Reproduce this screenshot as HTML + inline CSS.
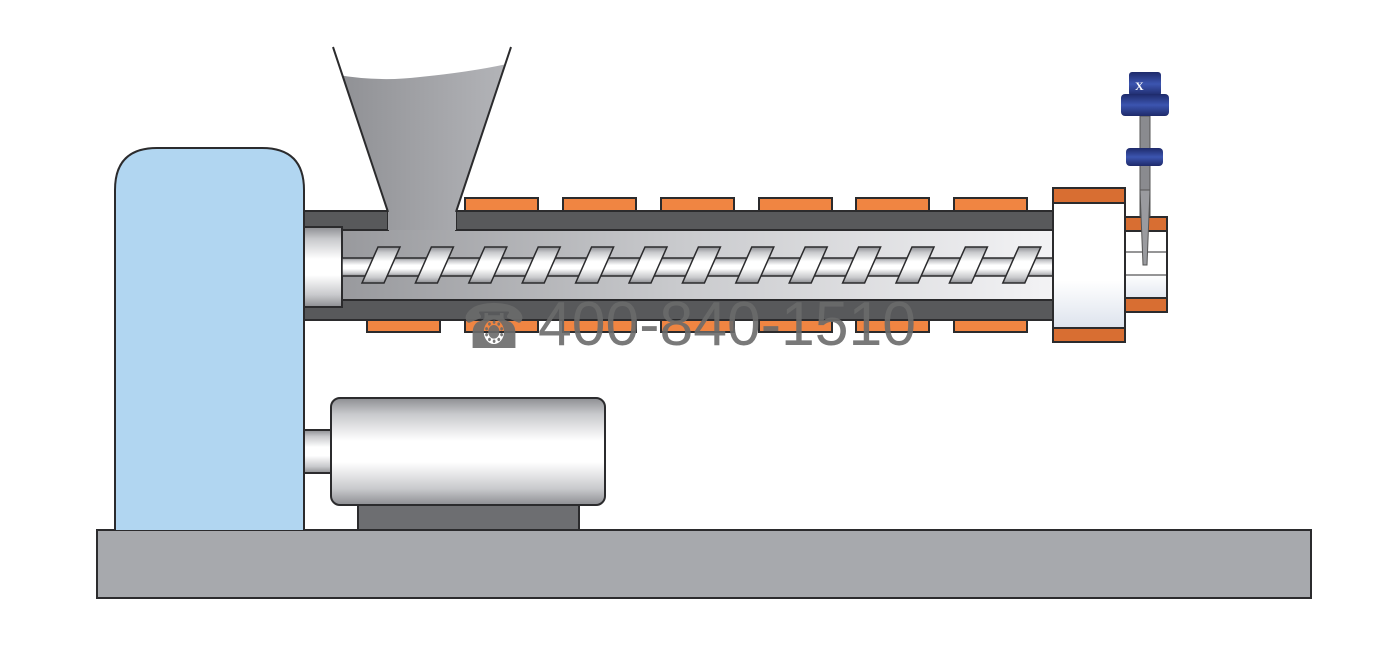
<!DOCTYPE html>
<html><head><meta charset="utf-8"><style>html,body{margin:0;padding:0;background:#fff}svg{display:block}</style></head><body>
<svg width="1378" height="646" viewBox="0 0 1378 646" xmlns="http://www.w3.org/2000/svg">
<defs>
<linearGradient id="hop" x1="0" x2="1" y1="0" y2="0"><stop offset="0" stop-color="#8e8f93"/><stop offset="1" stop-color="#b4b5b9"/></linearGradient>
<linearGradient id="bar" x1="0" x2="1" y1="0" y2="0"><stop offset="0" stop-color="#939498"/><stop offset="0.5" stop-color="#c9cacd"/><stop offset="1" stop-color="#f3f3f5"/></linearGradient>
<linearGradient id="cyl" x1="0" x2="0" y1="0" y2="1"><stop offset="0" stop-color="#8d8e92"/><stop offset="0.15" stop-color="#c8c9cc"/><stop offset="0.4" stop-color="#ffffff"/><stop offset="0.6" stop-color="#ffffff"/><stop offset="0.85" stop-color="#c8c9cc"/><stop offset="1" stop-color="#8d8e92"/></linearGradient>
<linearGradient id="noz" x1="0" x2="0" y1="0" y2="1"><stop offset="0" stop-color="#ffffff"/><stop offset="0.6" stop-color="#ffffff"/><stop offset="1" stop-color="#d3dbe8"/></linearGradient>
<linearGradient id="blue" x1="0" x2="0" y1="0" y2="1"><stop offset="0" stop-color="#1e2a6a"/><stop offset="0.5" stop-color="#3c55b0"/><stop offset="1" stop-color="#1e2a6a"/></linearGradient>
</defs>
<g stroke="#2b2b2d" stroke-width="2">
<rect x="97" y="530" width="1214" height="68" fill="#a7a9ad"/>
<path d="M115 530 V190 Q115 148 157 148 H262 Q304 148 304 190 V530" fill="#b1d6f1"/>
<g fill="#f08542">
<rect x="465" y="198" width="73" height="13"/><rect x="563" y="198" width="73" height="13"/><rect x="661" y="198" width="73" height="13"/><rect x="759" y="198" width="73" height="13"/><rect x="856" y="198" width="73" height="13"/><rect x="954" y="198" width="73" height="13"/>
<rect x="367" y="320" width="73" height="12"/><rect x="465" y="320" width="73" height="12"/><rect x="563" y="320" width="73" height="12"/><rect x="661" y="320" width="73" height="12"/><rect x="759" y="320" width="73" height="12"/><rect x="856" y="320" width="73" height="12"/><rect x="954" y="320" width="73" height="12"/>
</g>
<rect x="304" y="230" width="750" height="70" fill="url(#bar)" stroke="none"/>
<path d="M304 211 H388 V230 H304 Z M456 211 H1054 V230 H456 Z" fill="#58595b"/>
<rect x="304" y="300" width="750" height="20" fill="#58595b"/>
<path d="M333 47 L388 212 V230 H456 V212 L511 47" fill="url(#hop)" stroke="none"/>
<path d="M338 75 Q380 82 420 77 Q470 72 507 64 L511 47 H333 Z" fill="#fff" stroke="none"/>
<path d="M333 47 L388 212 M511 47 L456 212" fill="none"/>
<rect x="304" y="227" width="38" height="80" fill="url(#cyl)"/>
<rect x="342" y="258" width="712" height="18" fill="url(#cyl)" stroke-width="1.5"/>
<g fill="url(#cyl)" stroke-width="1.5">
<path id="f" d="M362 283 L384 283 L400 247 L378 247 Z"/>
<use href="#f" x="53.4"/><use href="#f" x="106.8"/><use href="#f" x="160.2"/><use href="#f" x="213.6"/><use href="#f" x="267"/><use href="#f" x="320.4"/><use href="#f" x="373.8"/><use href="#f" x="427.2"/><use href="#f" x="480.6"/><use href="#f" x="534"/><use href="#f" x="587.4"/><use href="#f" x="640.8"/>
</g>
<rect x="1125" y="217" width="42" height="95" fill="url(#noz)"/>
<path d="M1125 252 H1167 M1125 275 H1167" fill="none" stroke-width="1"/>
<rect x="1125" y="217" width="42" height="14" fill="#d86e32"/>
<rect x="1125" y="298" width="42" height="14" fill="#d86e32"/>
<rect x="1053" y="188" width="72" height="154" fill="url(#noz)"/>
<rect x="1053" y="188" width="72" height="15" fill="#d86e32"/>
<rect x="1053" y="328" width="72" height="14" fill="#d86e32"/>
<rect x="304" y="430" width="27" height="43" fill="url(#cyl)"/>
<rect x="358" y="505" width="221" height="25" fill="#6d6e71"/>
<rect x="331" y="398" width="274" height="107" rx="9" fill="url(#cyl)"/>
</g>
<rect x="1140" y="116" width="10" height="100" fill="#8a8b8f" stroke="#555" stroke-width="1"/>
<path d="M1140 190 L1150 190 L1147 265 L1143 265 Z" fill="#9a9b9f" stroke="#555" stroke-width="1"/>
<rect x="1126" y="148" width="37" height="18" rx="4" fill="url(#blue)"/>
<rect x="1129" y="72" width="32" height="24" rx="3" fill="url(#blue)"/>
<rect x="1121" y="94" width="48" height="22" rx="4" fill="url(#blue)"/>
<text x="1135" y="90" font-family="Liberation Serif, serif" font-size="12" fill="#fff" font-weight="bold">X</text>
<text x="462" y="348" font-family="DejaVu Sans, sans-serif" font-size="62" fill="#6a6a6a" fill-opacity="0.9" textLength="64" lengthAdjust="spacingAndGlyphs">☎</text>
<text x="538" y="345" font-family="Liberation Sans, sans-serif" font-size="62" fill="#6a6a6a" fill-opacity="0.9" textLength="378" lengthAdjust="spacingAndGlyphs">400-840-1510</text>
</svg>
</body></html>
